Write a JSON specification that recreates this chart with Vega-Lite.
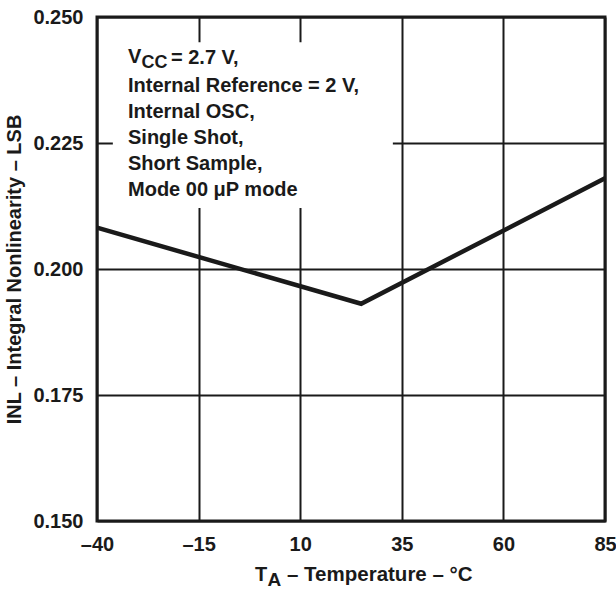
{
  "$schema": "https://vega.github.io/schema/vega-lite/v6.json",
  "width": 508,
  "height": 504,
  "autosize": {"type": "none"},
  "padding": {"left": 97, "top": 17, "right": 11, "bottom": 69},
  "background": "white",
  "config": {
    "view": {"stroke": "#1a1a1a", "strokeWidth": 3},
    "font": "Liberation Sans",
    "text": {"font": "Liberation Sans", "fontWeight": "bold", "fontSize": 20, "color": "#1a1a1a", "align": "left", "baseline": "middle"}
  },
  "layer": [
    {
      "data": {"values": [
        {"T": -40, "INL": 0.2082},
        {"T": 25, "INL": 0.1931},
        {"T": 85, "INL": 0.2180}
      ]},
      "mark": {"type": "line", "color": "#1a1a1a", "strokeWidth": 4.5, "strokeJoin": "miter"},
      "encoding": {
        "x": {
          "field": "T", "type": "quantitative",
          "scale": {"domain": [-40, 85], "nice": false, "zero": false},
          "axis": {
            "values": [-40, -15, 10, 35, 60, 85],
            "title": null,
            "grid": true, "gridColor": "#1a1a1a", "gridWidth": 2, "gridOpacity": 1,
            "domain": false, "ticks": false, "tickSize": 0,
            "labelFont": "Liberation Sans", "labelFontWeight": "bold", "labelFontSize": 20,
            "labelColor": "#1a1a1a", "labelPadding": 13, "labelFlush": false, "labelOverlap": false,
            "labelExpr": "datum.value < 0 ? '–' + abs(datum.value) : '' + datum.value"
          }
        },
        "y": {
          "field": "INL", "type": "quantitative",
          "scale": {"domain": [0.15, 0.25], "nice": false, "zero": false},
          "axis": {
            "values": [0.15, 0.175, 0.2, 0.225, 0.25],
            "format": ".3f",
            "grid": true, "gridColor": "#1a1a1a", "gridWidth": 2, "gridOpacity": 1,
            "domain": false, "ticks": false, "tickSize": 0,
            "labelFont": "Liberation Sans", "labelFontWeight": "bold", "labelFontSize": 20,
            "labelColor": "#1a1a1a", "labelPadding": 14, "labelFlush": false, "labelOverlap": false,
            "title": "INL – Integral Nonlinearity – LSB",
            "titleFont": "Liberation Sans", "titleFontWeight": "bold", "titleFontSize": 20,
            "titleColor": "#1a1a1a",
            "titleX": -83, "titleY": 252, "titleAngle": -90,
            "titleAlign": "center", "titleBaseline": "middle"
          }
        }
      }
    },
    {
      "data": {"values": [{}]},
      "mark": {"type": "rect", "fill": "white", "stroke": null},
      "encoding": {
        "x": {"datum": -36.1, "type": "quantitative"},
        "x2": {"datum": 32.8},
        "y": {"datum": 0.245, "type": "quantitative"},
        "y2": {"datum": 0.2121}
      }
    },
    {
      "data": {"values": [{}]},
      "mark": {"type": "text", "dy": -1},
      "encoding": {
        "x": {"datum": -32.37, "type": "quantitative"},
        "y": {"datum": 0.2419, "type": "quantitative"},
        "text": {"value": "V"}
      }
    },
    {
      "data": {"values": [{}]},
      "mark": {"type": "text", "dx": 13.5, "dy": 5, "fontSize": 18},
      "encoding": {
        "x": {"datum": -32.37, "type": "quantitative"},
        "y": {"datum": 0.2419, "type": "quantitative"},
        "text": {"value": "CC"}
      }
    },
    {
      "data": {"values": [{}]},
      "mark": {"type": "text", "dx": 43},
      "encoding": {
        "x": {"datum": -32.37, "type": "quantitative"},
        "y": {"datum": 0.2419, "type": "quantitative"},
        "text": {"value": "= 2.7 V,"}
      }
    },
    {
      "data": {"values": [{}]},
      "mark": {"type": "text"},
      "encoding": {
        "x": {"datum": -32.37, "type": "quantitative"},
        "y": {"datum": 0.2363, "type": "quantitative"},
        "text": {"value": "Internal Reference = 2 V,"}
      }
    },
    {
      "data": {"values": [{}]},
      "mark": {"type": "text"},
      "encoding": {
        "x": {"datum": -32.37, "type": "quantitative"},
        "y": {"datum": 0.23115, "type": "quantitative"},
        "text": {"value": "Internal OSC,"}
      }
    },
    {
      "data": {"values": [{}]},
      "mark": {"type": "text"},
      "encoding": {
        "x": {"datum": -32.37, "type": "quantitative"},
        "y": {"datum": 0.22599, "type": "quantitative"},
        "text": {"value": "Single Shot,"}
      }
    },
    {
      "data": {"values": [{}]},
      "mark": {"type": "text"},
      "encoding": {
        "x": {"datum": -32.37, "type": "quantitative"},
        "y": {"datum": 0.22083, "type": "quantitative"},
        "text": {"value": "Short Sample,"}
      }
    },
    {
      "data": {"values": [{}]},
      "mark": {"type": "text"},
      "encoding": {
        "x": {"datum": -32.37, "type": "quantitative"},
        "y": {"datum": 0.21567, "type": "quantitative"},
        "text": {"value": "Mode 00 μP mode"}
      }
    },
    {
      "data": {"values": [{}]},
      "mark": {"type": "text"},
      "encoding": {
        "x": {"datum": -1.12, "type": "quantitative"},
        "y": {"datum": 0.13929, "type": "quantitative"},
        "text": {"value": "T"}
      }
    },
    {
      "data": {"values": [{}]},
      "mark": {"type": "text", "dx": 12.5, "dy": 5, "fontSize": 19},
      "encoding": {
        "x": {"datum": -1.12, "type": "quantitative"},
        "y": {"datum": 0.13929, "type": "quantitative"},
        "text": {"value": "A"}
      }
    },
    {
      "data": {"values": [{}]},
      "mark": {"type": "text", "dx": 32, "fontSize": 20.5},
      "encoding": {
        "x": {"datum": -1.12, "type": "quantitative"},
        "y": {"datum": 0.13929, "type": "quantitative"},
        "text": {"value": "– Temperature – °C"}
      }
    }
  ]
}
